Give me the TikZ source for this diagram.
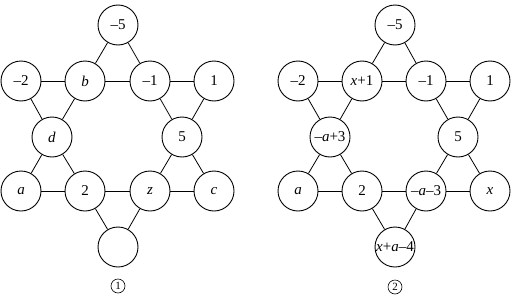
\documentclass[tikz,border=0pt]{standalone}
\usepackage{fontspec}
\setmainfont{Liberation Serif}
\begin{document}
\begin{tikzpicture}[x=1pt,y=-1pt,
  cnode/.style={circle,draw,line width=0.9pt,minimum size=40pt,inner sep=0pt,font=\fontsize{15}{15}\selectfont},
  conn/.style={line width=0.8pt},
  lab/.style={circle,draw,line width=0.6pt,minimum size=14pt,inner sep=0pt,font=\fontsize{11}{11}\selectfont}]
\useasboundingbox (0,0) rectangle (516,297);
% diagram 1
\node[cnode] (t) at (118,25) {–5};
\node[cnode] (ul) at (21,81) {–2};
\node[cnode] (b) at (85,81) {\textit{b}};
\node[cnode] (m1) at (150,81) {–1};
\node[cnode] (ur) at (214,81) {1};
\node[cnode] (d) at (52,137) {\textit{d}};
\node[cnode] (f) at (182,137) {5};
\node[cnode] (ll) at (21,191) {\textit{a}};
\node[cnode] (two) at (85,191) {2};
\node[cnode] (z) at (150,191) {\textit{z}};
\node[cnode] (lr) at (214,191) {\textit{c}};
\node[cnode] (bot) at (118,247) {};
\node[lab] (l1) at (118,286) {1};
\draw[conn] (ul)--(b) (b)--(m1) (m1)--(ur);
\draw[conn] (ll)--(two) (two)--(z) (z)--(lr);
\draw[conn] (t)--(b) (b)--(d) (d)--(ll);
\draw[conn] (t)--(m1) (m1)--(f) (f)--(lr);
\draw[conn] (ul)--(d) (d)--(two) (two)--(bot);
\draw[conn] (ur)--(f) (f)--(z) (z)--(bot);
% diagram 2
\node[cnode] (t2) at (395,25) {–5};
\node[cnode] (ul2) at (298,81) {–2};
\node[cnode] (b2) at (362,81) {\textit{x}+1};
\node[cnode] (m12) at (426,81) {–1};
\node[cnode] (ur2) at (490,81) {1};
\node[cnode] (d2) at (330,137) {\kern-2pt–\textit{a}+3\kern-2pt};
\node[cnode] (f2) at (458,137) {5};
\node[cnode] (ll2) at (298,191) {\textit{a}};
\node[cnode] (two2) at (362,191) {2};
\node[cnode] (z2) at (426,191) {\kern-2pt–\textit{a}–3\kern-2pt};
\node[cnode] (lr2) at (490,191) {\textit{x}};
\node[cnode] (bot2) at (395,247) {\kern-3pt\textit{x}+\textit{a}–4\kern-3pt};
\node[lab] (l2) at (395,287) {2};
\draw[conn] (ul2)--(b2) (b2)--(m12) (m12)--(ur2);
\draw[conn] (ll2)--(two2) (two2)--(z2) (z2)--(lr2);
\draw[conn] (t2)--(b2) (b2)--(d2) (d2)--(ll2);
\draw[conn] (t2)--(m12) (m12)--(f2) (f2)--(lr2);
\draw[conn] (ul2)--(d2) (d2)--(two2) (two2)--(bot2);
\draw[conn] (ur2)--(f2) (f2)--(z2) (z2)--(bot2);
\end{tikzpicture}
\end{document}
